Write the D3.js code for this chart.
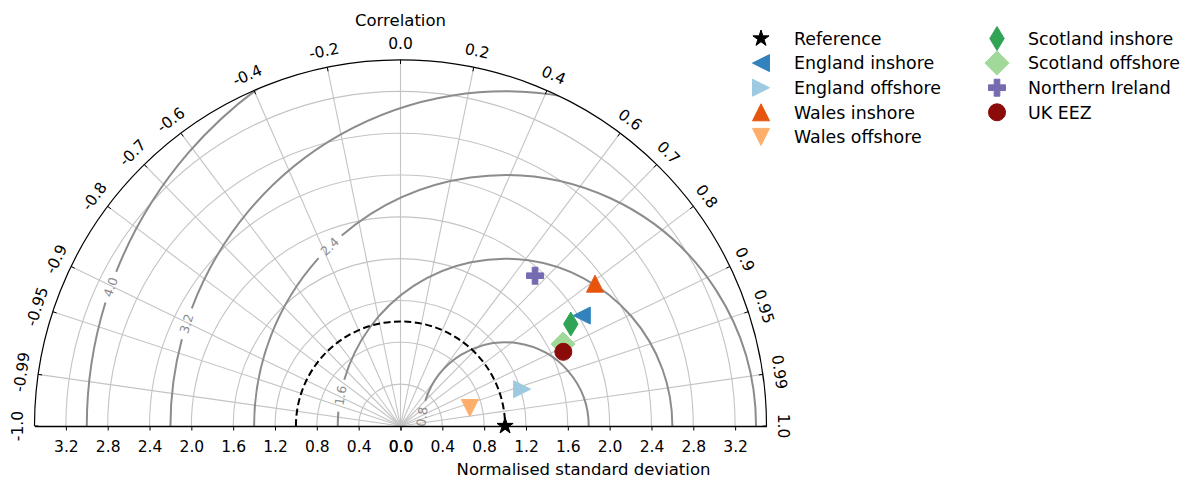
<!DOCTYPE html>
<html>
<head>
<meta charset="utf-8">
<script src="https://cdn.jsdelivr.net/npm/d3@7"></script>
<style>
  body { margin: 0; background: #fff; }
  svg { display: block; }
  text { font-family: "DejaVu Sans", sans-serif; }
</style>
</head>
<body>
<svg id="chart" width="1198" height="480"></svg>
<script>
// ---- data -------------------------------------------------------------
const seriesNames   = ["England inshore", "England offshore", "Wales inshore", "Wales offshore",
                       "Scotland inshore", "Scotland offshore", "Northern Ireland", "UK EEZ"];
const seriesStd     = [2.03, 1.215, 2.305, 0.685, 1.898, 1.741, 1.929, 1.711];
const seriesCorr    = [0.854, 0.957, 0.807, 0.968, 0.858, 0.893, 0.667, 0.910];
const seriesColors  = ["#3182bd", "#9ecae1", "#e6550d", "#fdae6b",
                       "#31a354", "#a1d99b", "#756bb1", "#8b0a0a"];
const seriesMarkers = ["triLeft", "triRight", "triUp", "triDown",
                       "thinDiamond", "diamond", "plusFilled", "circle"];
const refName = "Reference";
const refStd = 1.0;

const stdTicks  = [0, 0.4, 0.8, 1.2, 1.6, 2.0, 2.4, 2.8, 3.2];
const corrTicks = [-1, -0.99, -0.95, -0.9, -0.8, -0.7, -0.6, -0.4, -0.2, 0,
                   0.2, 0.4, 0.6, 0.7, 0.8, 0.9, 0.95, 0.99, 1];
const corrTickLabels = ["-1.0", "-0.99", "-0.95", "-0.9", "-0.8", "-0.7", "-0.6", "-0.4", "-0.2", "0.0",
                        "0.2", "0.4", "0.6", "0.7", "0.8", "0.9", "0.95", "0.99", "1.0"];
const rmsLevels = [0.8, 1.6, 2.4, 3.2, 4.0];
const rmsLabels = ["0.8", "1.6", "2.4", "3.2", "4.0"];

// ---- layout -----------------------------------------------------------
const maxStd = 3.5;
const cx = 400.5, cy = 426, R = 366;
const rmsLabelAngle = [173.6, 169.5, 134.3, 162.2, 160.6]; // where each inline label sits on its arc (deg)
const ms = 17;                     // marker size in px
const gridColor = "#c4c4c4";
const contourColor = "#8c8c8c";

const svg = d3.select("#chart");
svg.append("rect").attr("width", 1198).attr("height", 480).attr("fill", "#fff");

const rScale = d3.scaleLinear().domain([0, maxStd]).range([0, R]);
const xScale = d3.scaleLinear().domain([-maxStd, maxStd]).range([cx - R, cx + R]);

function polar(std, corr) {
  const th = Math.acos(corr), r = rScale(std);
  return [cx + r * Math.cos(th), cy - r * Math.sin(th)];
}

// ---- marker shapes ----------------------------------------------------
function polyType(pts) {
  return { draw(ctx, size) {
    const m = size / 2;
    pts.forEach(([x, y], i) => i ? ctx.lineTo(x * m, y * m) : ctx.moveTo(x * m, y * m));
    ctx.closePath();
  } };
}
const markerTypes = {
  star: { draw(ctx, size) {
    const ro = size / 2, ri = ro * 0.381966;
    for (let i = 0; i < 10; i++) {
      const a = -Math.PI / 2 + i * Math.PI / 5, r = i % 2 ? ri : ro;
      i ? ctx.lineTo(r * Math.cos(a), r * Math.sin(a)) : ctx.moveTo(r * Math.cos(a), r * Math.sin(a));
    }
    ctx.closePath();
  } },
  triLeft:  polyType([[-1, 0], [1, -1], [1, 1]]),
  triRight: polyType([[1, 0], [-1, -1], [-1, 1]]),
  triUp:    polyType([[0, -1], [-1, 1], [1, 1]]),
  triDown:  polyType([[0, 1], [-1, -1], [1, -1]]),
  thinDiamond: polyType([[0, -1.414], [0.849, 0], [0, 1.414], [-0.849, 0]]),
  diamond:  polyType([[0, -1.414], [1.414, 0], [0, 1.414], [-1.414, 0]]),
  plusFilled: polyType([[-1, -3], [1, -3], [1, -1], [3, -1], [3, 1], [1, 1], [1, 3], [-1, 3],
                        [-1, 1], [-3, 1], [-3, -1], [-1, -1]].map(([x, y]) => [x / 3, y / 3])),
  circle: { draw(ctx, size) { ctx.moveTo(size / 2, 0); ctx.arc(0, 0, size / 2, 0, 2 * Math.PI); } }
};
const symbolPath = key => d3.symbol().type(markerTypes[key]).size(ms)();

// ---- clip region: the upper half disc ---------------------------------
svg.append("clipPath").attr("id", "half")
  .append("path")
  .attr("d", `M${cx - R},${cy} A${R},${R} 0 0 1 ${cx + R},${cy} Z`);

// ---- grid -------------------------------------------------------------
const grid = svg.append("g").attr("fill", "none").attr("stroke", gridColor).attr("stroke-width", 1.1);
stdTicks.filter(s => s > 0).forEach(s => {
  const p = d3.path(), r = rScale(s);
  p.moveTo(cx - r, cy);
  p.arc(cx, cy, r, Math.PI, 2 * Math.PI);
  grid.append("path").attr("d", p.toString());
});
corrTicks.filter(c => Math.abs(c) < 1).forEach(c => {
  const [x, y] = polar(maxStd, c);
  grid.append("line").attr("x1", cx).attr("y1", cy).attr("x2", x).attr("y2", y);
});

// ---- RMS difference contours about the reference point ----------------
const contours = svg.append("g").attr("clip-path", "url(#half)");
const rx = xScale(refStd);
rmsLevels.forEach((lev, i) => {
  const rr = rScale(lev);
  const phi = rmsLabelAngle[i] * Math.PI / 180;
  const gap = (rmsLabels[i].length * 4.4 + 3) / rr;
  const p = d3.path();
  const a0 = -Math.PI, a1 = -(phi + gap), a2 = -(phi - gap), a3 = 0;
  if (a1 > a0) { p.moveTo(rx + rr * Math.cos(a0), cy + rr * Math.sin(a0)); p.arc(rx, cy, rr, a0, a1); }
  p.moveTo(rx + rr * Math.cos(a2), cy + rr * Math.sin(a2)); p.arc(rx, cy, rr, a2, a3);
  contours.append("path").attr("d", p.toString())
    .attr("fill", "none").attr("stroke", contourColor).attr("stroke-width", 2);
  const lx = rx + rr * Math.cos(phi), ly = cy - rr * Math.sin(phi);
  const rot = Math.atan2(Math.cos(phi), Math.sin(phi)) * 180 / Math.PI;
  svg.append("text")
    .attr("transform", `translate(${lx},${ly}) rotate(${rot})`)
    .attr("text-anchor", "middle").attr("dy", "0.36em")
    .attr("font-size", "12.5px").attr("fill", contourColor)
    .text(rmsLabels[i]);
});

// ---- reference standard deviation (dashed) ----------------------------
{
  const p = d3.path(), r = rScale(refStd);
  p.moveTo(cx - r, cy);
  p.arc(cx, cy, r, Math.PI, 2 * Math.PI);
  svg.append("path").attr("d", p.toString()).attr("fill", "none")
    .attr("stroke", "#000").attr("stroke-width", 2).attr("stroke-dasharray", "7,3.5");
}

// ---- outer correlation arc with ticks and labels ----------------------
{
  const p = d3.path();
  p.moveTo(cx - R, cy);
  p.arc(cx, cy, R, Math.PI, 2 * Math.PI);
  svg.append("path").attr("d", p.toString()).attr("fill", "none")
    .attr("stroke", "#000").attr("stroke-width", 1.2);
}
const corrAxis = svg.append("g");
corrTicks.forEach((c, i) => {
  const th = Math.acos(c);
  const [x1, y1] = polar(maxStd, c);
  const [x2, y2] = polar(maxStd - 4 / rScale(1), c);
  corrAxis.append("line").attr("x1", x1).attr("y1", y1).attr("x2", x2).attr("y2", y2)
    .attr("stroke", "#000").attr("stroke-width", 1);
  const lr = R + 17;
  const lx = cx + lr * Math.cos(th), ly = cy - lr * Math.sin(th);
  corrAxis.append("text")
    .attr("transform", `translate(${lx},${ly}) rotate(${90 - th * 180 / Math.PI})`)
    .attr("text-anchor", "middle").attr("dy", "0.36em")
    .attr("font-size", "15.5px").attr("fill", "#000")
    .text(corrTickLabels[i]);
});
svg.append("text").attr("x", cx).attr("y", 26).attr("text-anchor", "middle")
  .attr("font-size", "16.5px").attr("fill", "#000").text("Correlation");

// ---- standard deviation axis along the bottom -------------------------
const fmt = d => Math.abs(d).toFixed(1);
const axisLeft = d3.axisBottom(xScale).tickValues(stdTicks.map(d => -d))
  .tickFormat(fmt).tickSize(4.5).tickSizeOuter(0).tickPadding(10);
const axisRight = d3.axisBottom(xScale).tickValues(stdTicks)
  .tickFormat(fmt).tickSize(4.5).tickSizeOuter(0).tickPadding(10);
const gl = svg.append("g").attr("transform", `translate(0,${cy})`).call(axisLeft);
gl.select(".domain").remove();
const gr = svg.append("g").attr("transform", `translate(0,${cy})`).call(axisRight);
[gl, gr].forEach(g => {
  g.selectAll("text").attr("font-size", "15.5px").attr("fill", "#000")
    .attr("font-family", "DejaVu Sans, sans-serif");
  g.selectAll("line").attr("stroke", "#000");
  g.select(".domain").attr("stroke", "#000").attr("stroke-width", 1.3);
});
svg.append("text").attr("x", (cx + xScale(maxStd)) / 2).attr("y", 475).attr("text-anchor", "middle")
  .attr("font-size", "16.5px").attr("fill", "#000").text("Normalised standard deviation");

// ---- points ------------------------------------------------------------
const pts = svg.append("g");
{
  const [x, y] = polar(refStd, 1);
  pts.append("path").attr("d", symbolPath("star")).attr("transform", `translate(${x},${y})`)
    .attr("fill", "#000").attr("stroke", "#000").attr("stroke-width", 1);
}
seriesNames.forEach((n, i) => {
  const [x, y] = polar(seriesStd[i], seriesCorr[i]);
  pts.append("path").attr("d", symbolPath(seriesMarkers[i])).attr("transform", `translate(${x},${y})`)
    .attr("fill", seriesColors[i]).attr("stroke", seriesColors[i]).attr("stroke-width", 1);
});

// ---- legend ------------------------------------------------------------
const legendItems = [{ name: refName, marker: "star", color: "#000" }]
  .concat(seriesNames.map((n, i) => ({ name: n, marker: seriesMarkers[i], color: seriesColors[i] })));
const legend = svg.append("g");
legendItems.forEach((it, i) => {
  const col = i < 5 ? 0 : 1, row = i < 5 ? i : i - 5;
  const mx = col ? 997 : 761, tx = col ? 1028 : 794, y = 38.5 + row * 24.6;
  legend.append("path").attr("d", symbolPath(it.marker)).attr("transform", `translate(${mx},${y})`)
    .attr("fill", it.color).attr("stroke", it.color).attr("stroke-width", 1);
  legend.append("text").attr("x", tx).attr("y", y).attr("dy", "0.36em")
    .attr("font-size", "17.4px").attr("fill", "#000").text(it.name);
});
</script>
</body>
</html>
